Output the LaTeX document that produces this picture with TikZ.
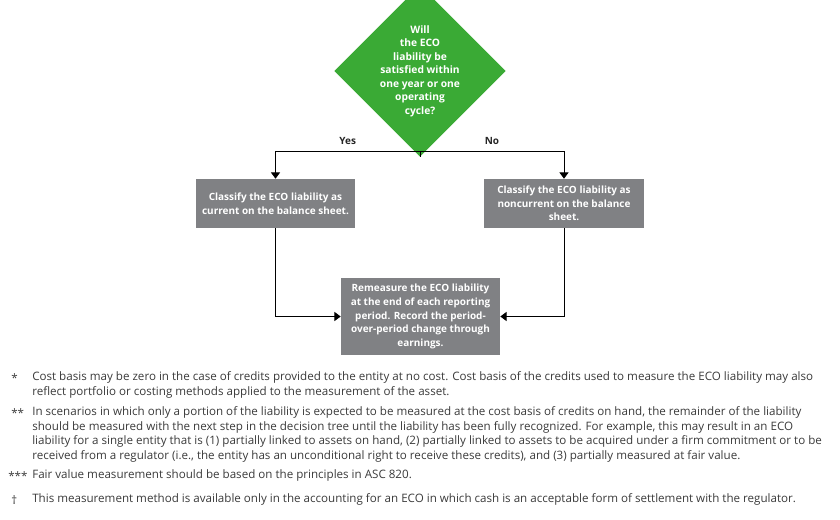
\documentclass[tikz,border=0pt]{standalone}
\usepackage{fontspec}
\setmainfont{Open Sans}
\usepackage{xcolor}
\definecolor{decision-fill}{HTML}{3AAA35}
\definecolor{step-fill}{HTML}{808184}
\definecolor{note-text}{HTML}{3A3A3A}
\usepackage{tikz}
\usetikzlibrary{
  shapes.geometric,
  arrows.meta,
  positioning,
  calc
}

\begin{document}
\begin{tikzpicture}[
    x=0.025cm, y=-0.025cm,
    decision/.style={
      diamond,
      fill=decision-fill,
      minimum width=3.25cm,
      minimum height=3.3cm,
      inner sep=0pt,
      font=\bfseries\fontsize{7.3}{9.6}\selectfont,
      text=white,
      align=center
    },
    stepbox/.style={
      rectangle,
      fill=step-fill,
      minimum width=3.975cm,
      inner sep=0pt,
      font=\bfseries\fontsize{7.1}{9.7}\selectfont,
      text=white,
      align=center
    },
    flow/.style={
      -{Triangle[width=6.5pt,length=4.5pt]},
      line width=0.6pt,
      color=black
    },
    answer/.style={
      font=\bfseries\fontsize{7.1}{8}\selectfont,
      text=black!85
    },
    notemark/.style={
      anchor=base west,
      inner sep=0pt,
      font=\fontsize{8.25}{10.6}\selectfont,
      text=note-text
    },
    note/.style={
      anchor=north west,
      align=left,
      inner sep=0pt,
      font=\fontsize{8.25}{10.6}\selectfont,
      text=note-text
    }
  ]
    \useasboundingbox (0,0) rectangle (840,519);

    % ---- Decision ----
    \node[decision] (question) at (420, 71)
      {Will\\the ECO\\liability be\\satisfied within\\one year or one\\operating\\cycle?};
    \coordinate (split) at (420, 151);

    % ---- Classification row ----
    \node[stepbox, minimum height=1.225cm] (current)    at (275.5, 203.5)
      {Classify the ECO liability as\\current on the balance sheet.};
    \node[stepbox, minimum height=1.225cm] (noncurrent) at (564, 203.5)
      {Classify the ECO liability as\\noncurrent on the balance\\sheet.};

    % ---- Remeasurement ----
    \node[stepbox, minimum height=1.925cm] (remeasure)  at (420.5, 316.5)
      {Remeasure the ECO liability\\at the end of each reporting\\period. Record the period-\\over-period change through\\earnings.};

    % ---- Decision -> classification ----
    \draw[line width=0.6pt] (question.south) -- (split);
    \draw[flow] (split) -| (current.north)
      node[answer, pos=0.25, above=1pt] {Yes};
    \draw[flow] (split) -| (noncurrent.north)
      node[answer, pos=0.25, above=1pt] {No};

    % ---- Classification -> remeasurement ----
    \draw[flow] (current.south) |- (remeasure.west);
    \draw[flow] (noncurrent.south) |- (remeasure.east);

    % ---- Footnotes ----
    \node[notemark] (m1) at (11, 382) {*};
    \node[note] (n1) at (32, 371)
      {Cost basis may be zero in the case of credits provided to the entity at no cost. Cost basis of the credits used to measure the ECO liability may also\\
       reflect portfolio or costing methods applied to the measurement of the asset.};
    \node[notemark] (m2) at (11, 417) {**};
    \node[note] (n2) at (32, 406)
      {In scenarios in which only a portion of the liability is expected to be measured at the cost basis of credits on hand, the remainder of the liability\\
       should be measured with the next step in the decision tree until the liability has been fully recognized. For example, this may result in an ECO\\
       liability for a single entity that is (1) partially linked to assets on hand, (2) partially linked to assets to be acquired under a firm commitment or to be\\
       received from a regulator (i.e., the entity has an unconditional right to receive these credits), and (3) partially measured at fair value.};
    \node[notemark] (m3) at (8, 480) {***};
    \node[note] (n3) at (32, 469)
      {Fair value measurement should be based on the principles in ASC 820.};
    \node[notemark] (m4) at (11, 504) {\textdagger};
    \node[note] (n4) at (32, 493)
      {This measurement method is available only in the accounting for an ECO in which cash is an acceptable form of settlement with the regulator.};
  \end{tikzpicture}
\end{document}
